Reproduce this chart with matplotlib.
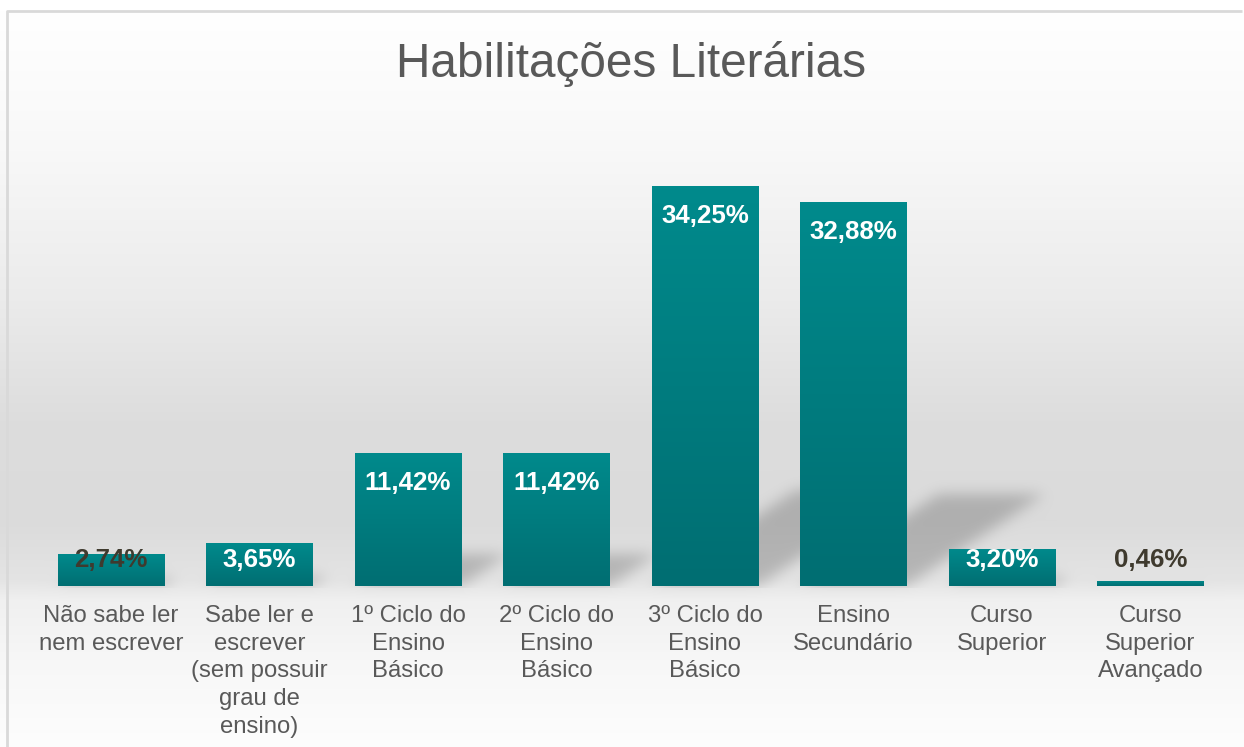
import matplotlib
matplotlib.use('Agg')
import matplotlib.pyplot as plt
import numpy as np
from matplotlib.path import Path
from matplotlib.lines import Line2D

plt.rcParams['font.family'] = ['Liberation Sans', 'DejaVu Sans']

# ---- data ----
categories = [
    "Não sabe ler\nnem escrever",
    "Sabe ler e\nescrever\n(sem possuir\ngrau de\nensino)",
    "1º Ciclo do\nEnsino\nBásico",
    "2º Ciclo do\nEnsino\nBásico",
    "3º Ciclo do\nEnsino\nBásico",
    "Ensino\nSecundário",
    "Curso\nSuperior",
    "Curso\nSuperior\nAvançado",
]
values = [2.74, 3.65, 11.42, 11.42, 34.25, 32.88, 3.20, 0.46]
value_labels = ["2,74%", "3,65%", "11,42%", "11,42%", "34,25%", "32,88%", "3,20%", "0,46%"]
title = "Habilitações Literárias"

# ---- style ----
label_colors = ['#3f3a2e', 'white', 'white', 'white', 'white', 'white', 'white', '#3f3a2e']
bar_top = np.array([0x00, 0x8a, 0x8c]) / 255
bar_bot = np.array([0x00, 0x6e, 0x72]) / 255
text_grey = '#595959'

W, H = 1244, 747
fig = plt.figure(figsize=(W / 100, H / 100), dpi=100)

# main axes
ax = fig.add_axes([36.75 / W, 161 / H, 1188 / W, 467 / H])
ax.set_facecolor('none')
x = np.arange(len(values))
bw = 0.714
ax.set_xlim(-0.5, len(values) - 0.5)
ax.set_ylim(0, 40)

# ---- background gradient + blurred perspective shadows (one pixel image) ----
rows = np.arange(H)
stops_y = [0, 10, 150, 300, 420, 520, 580, 600, 660, 747]
stops_v = [255, 255, 248, 235, 221, 219, 228, 240, 247, 253]
g = np.interp(rows, stops_y, stops_v) / 255          # row 0 = top
bg = np.repeat(g[:, None], W, axis=1)

hs = 0.0283   # horizontal shift per unit of value (category units)
vs = 0.24     # vertical scale of shadow
xx, yy = np.meshgrid(np.arange(W) + 0.5, np.arange(H) + 0.5)
pts_disp = np.column_stack([xx.ravel(), (H - yy).ravel()])  # display coords (origin bottom)
mask = np.zeros(W * H)
for xi, v in zip(x, values):
    poly = [(xi - bw / 2, 0), (xi + bw / 2, 0),
            (xi + bw / 2 + hs * v, vs * v), (xi - bw / 2 + hs * v, vs * v)]
    disp = ax.transData.transform(poly)
    inside = Path(disp).contains_points(pts_disp)
    mask = np.maximum(mask, inside.astype(float))
mask = mask.reshape(H, W)

sigma = 7.0
kx = np.arange(-3 * int(sigma), 3 * int(sigma) + 1)
k = np.exp(-0.5 * (kx / sigma) ** 2)
k /= k.sum()
blur = np.apply_along_axis(lambda r: np.convolve(r, k, mode='same'), 1, mask)
blur = np.apply_along_axis(lambda c: np.convolve(c, k, mode='same'), 0, blur)
base_row = int(round(H - ax.transData.transform((0, 0))[1]))
blur[base_row + 2:, :] *= 0.25
shade = 1 - 0.2 * blur
bgimg = np.clip(bg * shade, 0, 1)
fig.figimage(np.dstack([bgimg, bgimg, bgimg]), xo=0, yo=0, origin='upper', zorder=-10)

# border (left + top)
bx = 7.5 / W
by = 1 - 10.5 / H
fig.add_artist(Line2D([bx, bx, 1.0 - 2.0 / W], [0, by, by], transform=fig.transFigure,
                      color='#d9d9d9', lw=2, zorder=20, solid_capstyle='butt'))

# bars with vertical gradient
bars = ax.bar(x, values, width=bw, color='none', edgecolor='none', zorder=3)
N = 64
t = np.linspace(0, 1, N)[:, None]
grad = (bar_bot[None, :] * (1 - t) + bar_top[None, :] * t)[:, None, :]
for rect in bars:
    x0, y0 = rect.get_x(), rect.get_y()
    im = ax.imshow(grad, aspect='auto', origin='lower',
                   extent=[x0, x0 + rect.get_width(), y0, y0 + rect.get_height()],
                   zorder=3, interpolation='bilinear')
    im.set_clip_path(rect)

ax.set_xlim(-0.5, len(values) - 0.5)
ax.set_ylim(0, 40)

# value labels
for xi, v, lab, c in zip(x, values, value_labels, label_colors):
    ax.text(xi, max(v - 3.17, 1.63), lab, ha='center', va='baseline',
            fontsize=18.6, fontweight='bold', color=c, zorder=5)

ax.set_xticks(x, categories)
ax.tick_params(axis='x', length=0, pad=13.5, labelsize=17.2, labelcolor=text_grey)
for lbl in ax.get_xticklabels():
    lbl.set_linespacing(1.34)
ax.set_yticks([])
for s in ax.spines.values():
    s.set_visible(False)

fig.text(631.5 / W, 1 - 77 / H, title, ha='center', va='baseline',
         fontsize=34.4, color=text_grey)

fig.savefig('out.png', dpi=100)
